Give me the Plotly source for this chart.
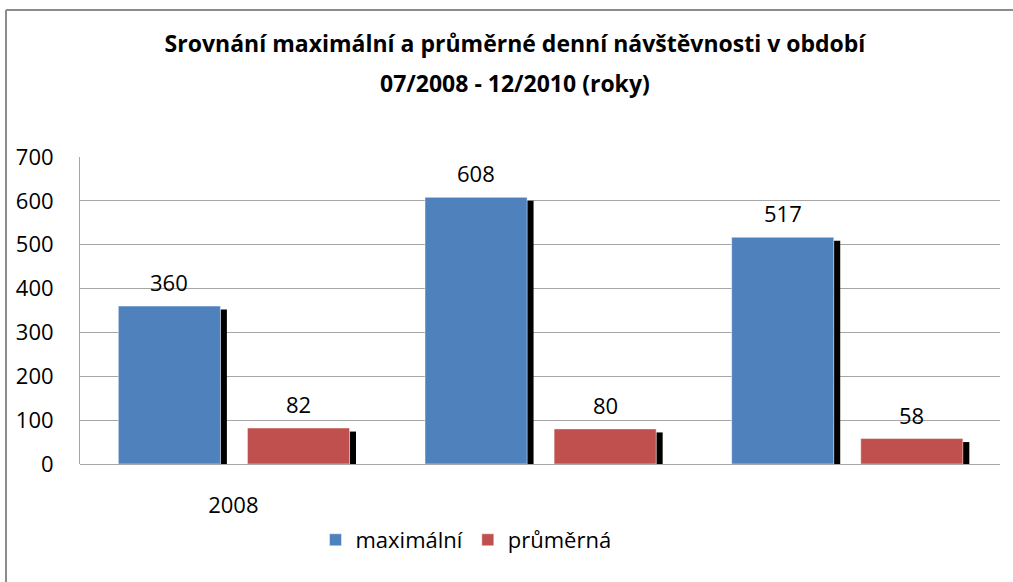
import plotly.graph_objects as go

# ---- data ----
years = ["2008", "2009", "2010"]
tick_labels = ["2008", "", ""]
maximalni = [360, 608, 517]
prumerna = [82, 80, 58]
series_names = ["maximální", "průměrná"]
title_line1 = "Srovnání maximální a průměrné denní návštěvnosti v období"
title_line2 = "07/2008 - 12/2010 (roky)"
y_ticks = [0, 100, 200, 300, 400, 500, 600, 700]

FONT = "'Open Sans', Lato, sans-serif"
BLUE = "#4F81BD"
RED = "#C0504D"
SHADOW_DROP = 8  # shadow starts slightly lower than the bar top
TXT = 22
TITLE_SIZE = 23

# plot area geometry in pixels (for paper coords of decorations)
W, H = 1013, 582
ML, MR, MT, MB = 80, 13, 157, 118
PW, PH = W - ML - MR, H - MT - MB

def px_x(x):
    return (x - ML) / PW

def px_y(y):
    return (H - MB - y) / PH

xs = list(range(len(years)))

fig = go.Figure()

bar_w = 0.333
specs = [
    (series_names[0], maximalni, BLUE, -0.375),
    (series_names[1], prumerna, RED, 0.046),
]

for name, vals, col, off in specs:
    # shadow
    fig.add_trace(go.Bar(
        x=xs, y=[v - SHADOW_DROP for v in vals], offset=off + bar_w, width=0.021,
        marker=dict(color="black", line=dict(width=0)),
        showlegend=False, hoverinfo="skip",
    ))
    fig.add_trace(go.Bar(
        x=xs, y=vals, offset=off, width=bar_w, name=name,
        marker=dict(color=col, line=dict(color="rgba(255,255,255,0.45)", width=1)),
    ))
    for xi, v in zip(xs, vals):
        fig.add_annotation(
            x=xi + off + bar_w / 2, y=v, xref="x", yref="y",
            text=str(v), showarrow=False, yanchor="middle", yshift=24,
            font=dict(family=FONT, size=TXT, color="black"),
        )

# second title line
fig.add_annotation(
    x=px_x(515), y=px_y(83), xref="paper", yref="paper",
    text="<b>" + title_line2 + "</b>", showarrow=False,
    xanchor="center", yanchor="middle",
    font=dict(family=FONT, size=TITLE_SIZE, color="black"),
)

# chart border (top and left edges visible)
border = dict(color="#8c8c8c", width=2)
fig.add_shape(type="line", xref="paper", yref="paper",
              x0=px_x(6), y0=px_y(10), x1=px_x(W + 5), y1=px_y(10), line=border)
fig.add_shape(type="line", xref="paper", yref="paper",
              x0=px_x(6), y0=px_y(10), x1=px_x(6), y1=px_y(H + 5), line=border)

fig.update_layout(
    width=W, height=H,
    margin=dict(l=ML, r=MR, t=MT, b=MB),
    paper_bgcolor="white", plot_bgcolor="white",
    barmode="overlay",
    font=dict(family=FONT, size=TXT, color="black"),
    title=dict(
        text="<b>" + title_line1 + "</b>",
        x=515 / W, y=1 - 44 / H, xanchor="center", yanchor="middle",
        xref="container", yref="container",
        font=dict(family=FONT, size=TITLE_SIZE, color="black"),
    ),
    showlegend=True,
    legend=dict(
        orientation="h", x=px_x(466), y=px_y(540), xanchor="center", yanchor="middle",
        font=dict(family=FONT, size=TXT, color="black"),
        itemwidth=30, traceorder="normal",
    ),
    xaxis=dict(
        tickmode="array", tickvals=xs, ticktext=tick_labels,
        range=[-0.5, len(years) - 0.5],
        showgrid=False, showline=False, zeroline=False,
        ticks="", ticklabelstandoff=26,
    ),
    yaxis=dict(
        range=[0, 700], tickvals=y_ticks,
        showgrid=True, gridcolor="#a6a6a6", gridwidth=1,
        showline=True, linecolor="#a6a6a6", linewidth=1,
        zeroline=True, zerolinecolor="#a6a6a6", zerolinewidth=1,
        ticks="", ticklabelstandoff=21,
    ),
)

fig.write_html(
    "out.html",
    config={"displayModeBar": False},
    post_script="document.body.style.margin='0';document.body.style.overflow='hidden';",
)
